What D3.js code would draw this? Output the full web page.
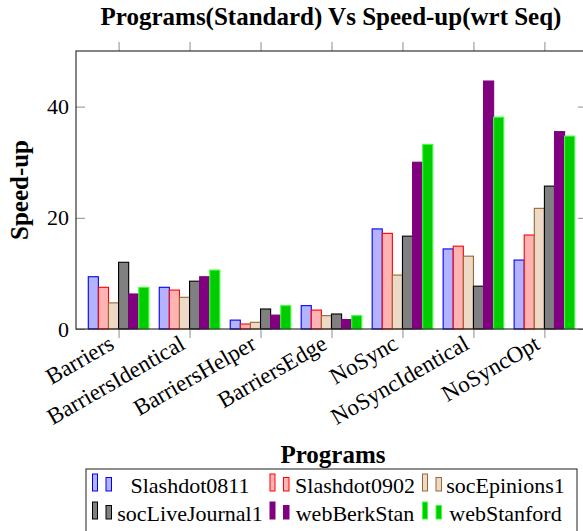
<!DOCTYPE html>
<html>
<head>
<meta charset="utf-8">
<script src="https://cdn.jsdelivr.net/npm/d3@7"></script>
<style>
  body { margin: 0; background: #fff; }
  text { font-family: "Liberation Serif", "Times New Roman", serif; fill: #000; }
</style>
</head>
<body>
<div id="chart"></div>
<script>
// Programs on the x axis.
var programs = ["Barriers", "BarriersIdentical", "BarriersHelper", "BarriersEdge",
                "NoSync", "NoSyncIdentical", "NoSyncOpt"];

// Input graphs (one bar series each).
var graphs = ["Slashdot0811", "Slashdot0902", "socEpinions1",
              "socLiveJournal1", "webBerkStan", "webStanford"];

// Speed-up per graph, in program order.
var slashdot0811    = [9.4, 7.5, 1.6, 4.2, 18.0, 14.4, 12.4];
var slashdot0902    = [7.5, 7.0, 0.9, 3.4, 17.2, 14.9, 16.9];
var socEpinions1    = [4.7, 5.7, 1.2, 2.4, 9.7, 13.1, 21.7];
var socLiveJournal1 = [12.0, 8.6, 3.6, 2.7, 16.7, 7.7, 25.7];
var webBerkStan     = [6.3, 9.4, 2.5, 1.7, 30.0, 44.6, 35.5];
var webStanford     = [7.5, 10.6, 4.2, 2.4, 33.2, 38.1, 34.7];

var yTicks = [0, 20, 40];

var seriesValues = [slashdot0811, slashdot0902, socEpinions1,
                    socLiveJournal1, webBerkStan, webStanford];

// pgfplots-like bar styles: fill / draw.
var fills   = ["#b3b3ff", "#ffb3b3", "#ecd9c6", "#808080", "#800080", "#00cc00"];
var strokes = ["#0000ff", "#ff0000", "#9a6634", "#000000", "#800080", "#40ff40"];

var width = 583, height = 531;
var plot = { left: 76, top: 51, right: 587, bottom: 329 };

var svg = d3.select("#chart").append("svg")
    .attr("width", width)
    .attr("height", height);

var x = d3.scalePoint()
    .domain(programs)
    .range([plot.left, plot.right])
    .padding(0.6);

var groupHalf = x.step() * 0.427;
var xs = d3.scaleBand()
    .domain(graphs)
    .range([-groupHalf, groupHalf]);

var y = d3.scaleLinear()
    .domain([0, 50])
    .range([plot.bottom, plot.top]);

// Bars
var series = svg.append("g").selectAll("g")
    .data(graphs)
    .enter().append("g")
    .attr("fill", function(d, i) { return fills[i]; })
    .attr("stroke", function(d, i) { return strokes[i]; })
    .attr("stroke-width", 1.1);

series.selectAll("rect")
    .data(function(d, i) {
      return seriesValues[i].map(function(v, j) { return { name: d, prog: programs[j], value: v }; });
    })
    .enter().append("rect")
    .attr("x", function(d) { return x(d.prog) + xs(d.name); })
    .attr("width", xs.bandwidth())
    .attr("y", function(d) { return y(d.value); })
    .attr("height", function(d) { return plot.bottom - y(d.value); });

// Axes (ticks only, the frame is drawn separately)
function styleAxis(g) {
  g.select(".domain").remove();
  g.selectAll(".tick line").attr("stroke", "#8c8c8c").attr("stroke-width", 1);
}

svg.append("g")
    .attr("transform", "translate(" + plot.left + ",0)")
    .call(d3.axisLeft(y).tickValues(yTicks).tickSizeInner(-9).tickSizeOuter(0).tickPadding(7))
    .call(styleAxis)
    .selectAll("text")
    .attr("font-size", "22px")
    .attr("font-family", "Liberation Serif");

svg.append("g")
    .attr("transform", "translate(" + plot.right + ",0)")
    .call(d3.axisRight(y).tickValues(yTicks).tickSizeInner(-9).tickSizeOuter(0).tickFormat(""))
    .call(styleAxis);

svg.append("g")
    .attr("transform", "translate(0," + plot.bottom + ")")
    .call(d3.axisBottom(x).tickSize(9).tickFormat(""))
    .call(styleAxis);

svg.append("g")
    .attr("transform", "translate(0," + plot.top + ")")
    .call(d3.axisTop(x).tickSize(9).tickFormat(""))
    .call(styleAxis);

// Frame
svg.append("rect")
    .attr("x", plot.left)
    .attr("y", plot.top)
    .attr("width", plot.right - plot.left)
    .attr("height", plot.bottom - plot.top)
    .attr("fill", "none")
    .attr("stroke", "#222")
    .attr("stroke-width", 1.1);

// Rotated program labels
svg.append("g").selectAll("text")
    .data(programs)
    .enter().append("text")
    .attr("transform", function(d) {
      return "translate(" + (x(d) - 3) + "," + (plot.bottom + 19) + ") rotate(-30)";
    })
    .attr("text-anchor", "end")
    .attr("font-size", "23px")
    .text(function(d) { return d; });

// Title
svg.append("text")
    .attr("x", 331)
    .attr("y", 25)
    .attr("text-anchor", "middle")
    .attr("font-size", "25px")
    .attr("font-weight", "bold")
    .text("Programs(Standard) Vs Speed-up(wrt Seq)");

// Y label
svg.append("text")
    .attr("transform", "translate(28," + ((plot.top + plot.bottom) / 2) + ") rotate(-90)")
    .attr("text-anchor", "middle")
    .attr("font-size", "25px")
    .attr("font-weight", "bold")
    .text("Speed-up");

// X label
svg.append("text")
    .attr("x", 333)
    .attr("y", 463)
    .attr("text-anchor", "middle")
    .attr("font-size", "25px")
    .attr("font-weight", "bold")
    .text("Programs");

// Legend
var legend = { left: 86, top: 469, right: 577, rows: [492.5, 520.5],
               iconX: [92.5, 270, 422.5], textX: [190, 355, 505.5] };

svg.append("rect")
    .attr("x", legend.left)
    .attr("y", legend.top)
    .attr("width", legend.right - legend.left)
    .attr("height", 80)
    .attr("fill", "#fff")
    .attr("stroke", "#333")
    .attr("stroke-width", 1.1);

var entry = svg.append("g").selectAll("g")
    .data(graphs)
    .enter().append("g")
    .attr("transform", function(d, i) {
      return "translate(0," + legend.rows[Math.floor(i / 3)] + ")";
    });

entry.append("rect")
    .attr("x", function(d, i) { return legend.iconX[i % 3]; })
    .attr("y", -18.5)
    .attr("width", 5)
    .attr("height", 17)
    .attr("fill", function(d, i) { return fills[i]; })
    .attr("stroke", function(d, i) { return strokes[i]; });

entry.append("rect")
    .attr("x", function(d, i) { return legend.iconX[i % 3] + 13.5; })
    .attr("y", -15)
    .attr("width", 5.5)
    .attr("height", 13.5)
    .attr("fill", function(d, i) { return fills[i]; })
    .attr("stroke", function(d, i) { return strokes[i]; });

entry.append("text")
    .attr("x", function(d, i) { return legend.textX[i % 3]; })
    .attr("text-anchor", "middle")
    .attr("font-size", "22px")
    .text(function(d) { return d; });
</script>
</body>
</html>
